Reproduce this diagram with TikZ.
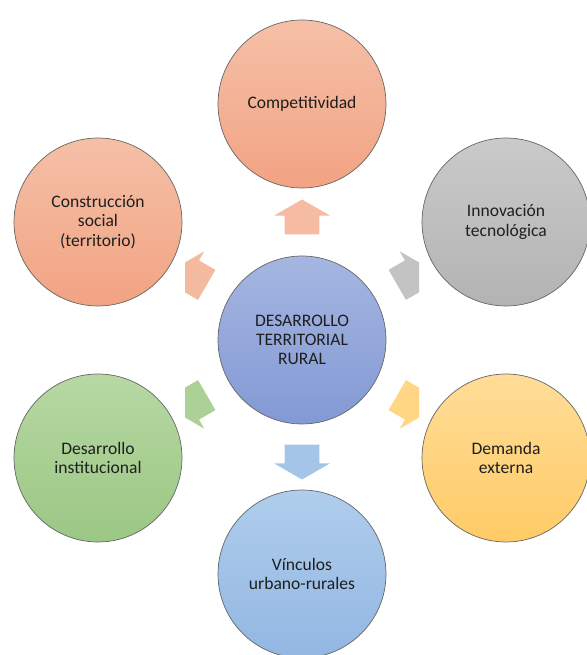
\documentclass[tikz,border=0pt]{standalone}
\usepackage{fontspec}
\setmainfont{Carlito}
\usepackage{xcolor}
\usetikzlibrary{calc, shapes.arrows}

\definecolor{naranjaA}{HTML}{F5C0A7}
\definecolor{naranjaB}{HTML}{F2A383}
\definecolor{grisA}{HTML}{CACACA}
\definecolor{grisB}{HTML}{B3B3B3}
\definecolor{azulA}{HTML}{A5B6E1}
\definecolor{azulB}{HTML}{8299D4}
\definecolor{amarilloA}{HTML}{FFDD98}
\definecolor{amarilloB}{HTML}{FFCB66}
\definecolor{verdeA}{HTML}{B7D8A3}
\definecolor{verdeB}{HTML}{9BC784}
\definecolor{celesteA}{HTML}{B0CDEC}
\definecolor{celesteB}{HTML}{92B7E2}

\begin{document}
\begin{tikzpicture}[x=0.02cm, y=0.02cm,
	circulo/.style={circle, draw=black!60, line width=0.4pt, minimum size=3.36cm, inner sep=0pt,
		align=center, font=\fontsize{10}{11}\selectfont, text=black!88},
	flecha/.style={single arrow, draw=none, inner xsep=0pt, inner ysep=0.34cm, minimum height=0.7cm,
		single arrow head extend=0.21cm, single arrow tip angle=120}]
		\useasboundingbox (0,0) rectangle (587,655);
		% Centre
		\node[circulo, top color=azulA, bottom color=azulB] (dtr) at (302,315) {DESARROLLO\\TERRITORIAL\\RURAL};
		% Outer circles
		\node[circulo, top color=naranjaA, bottom color=naranjaB] (comp) at (302,551) {Competitividad};
		\node[circulo, top color=grisA, bottom color=grisB] (innov) at (506,433) {Innovación\\tecnológica};
		\node[circulo, top color=amarilloA, bottom color=amarilloB] (dem) at (506,197) {Demanda\\externa};
		\node[circulo, top color=celesteA, bottom color=celesteB] (vinc) at (302,81) {Vínculos\\urbano-rurales};
		\node[circulo, top color=verdeA, bottom color=verdeB] (inst) at (98,197) {Desarrollo\\institucional};
		\node[circulo, top color=naranjaA, bottom color=naranjaB] (soc) at (98,433) {Construcción\\social\\(territorio)};
		% Arrows up and down
		\node[flecha, fill=naranjaA!85!naranjaB, rotate=90] (fcomp) at ($(dtr)!0.5!(comp)$) {};
		\node[flecha, fill=celesteA!60!celesteB, rotate=-90] (fvinc) at ($(dtr)!0.5!(vinc)$) {};
		% Diagonal arrows, cut at the sides
		\begin{scope}
			\clip (185,0) rectangle (419,655);
			\node[flecha, fill=grisA!70!grisB, rotate=30] (finnov) at ($(dtr)!0.52!(innov)$) {};
			\node[flecha, fill=amarilloA!60!amarilloB, rotate=-30] (fdem) at ($(dtr)!0.52!(dem)$) {};
			\node[flecha, fill=verdeA!60!verdeB, rotate=210] (finst) at ($(dtr)!0.52!(inst)$) {};
			\node[flecha, fill=naranjaA!80!naranjaB, rotate=150] (fsoc) at ($(dtr)!0.52!(soc)$) {};
		\end{scope}
\end{tikzpicture}
\end{document}
